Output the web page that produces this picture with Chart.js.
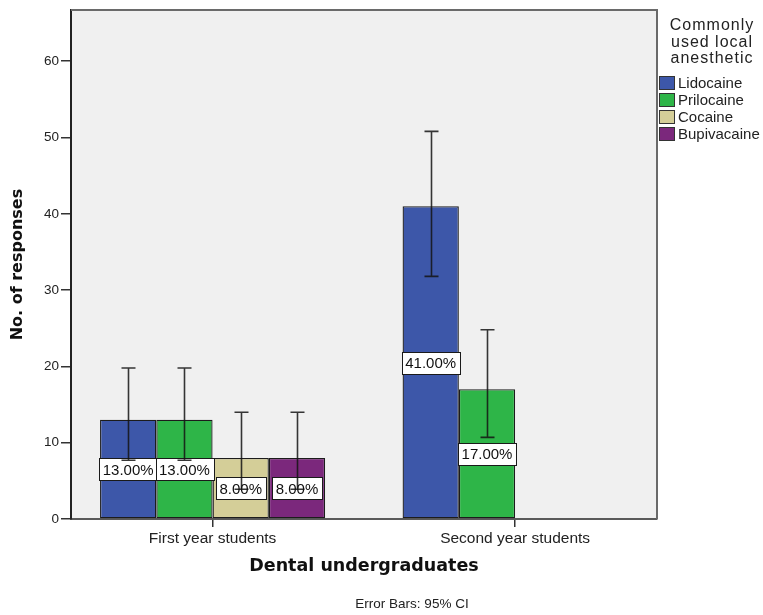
<!DOCTYPE html>
<html>
<head>
<meta charset="utf-8">
<script src="https://cdn.jsdelivr.net/npm/chart.js@4/dist/chart.umd.min.js"></script>
<style>
  html, body { margin: 0; padding: 0; background: #ffffff; }
  #c { display: block; }
</style>
</head>
<body>
<canvas id="c" width="763" height="615"></canvas>
<script>
// ---- data ----
const categories = ['First year students', 'Second year students'];
const seriesNames = ['Lidocaine', 'Prilocaine', 'Cocaine', 'Bupivacaine'];
const lidocaine   = [13, 41];
const prilocaine  = [13, 17];
const cocaine     = [8, null];
const bupivacaine = [8, null];
// 95% CI error bars
const lidocaineLow   = [7.7, 31.8];
const lidocaineHigh  = [19.8, 50.8];
const prilocaineLow  = [7.7, 10.7];
const prilocaineHigh = [19.8, 24.8];
const cocaineLow     = [3.9, null];
const cocaineHigh    = [14.0, null];
const bupivacaineLow = [3.9, null];
const bupivacaineHigh= [14.0, null];
const yTicks = [0, 10, 20, 30, 40, 50, 60];
const legendTitle = ['Commonly', 'used local', 'anesthetic'];
const footnote = 'Error Bars: 95% CI';

const seriesValues = [lidocaine, prilocaine, cocaine, bupivacaine];
const seriesLow = [lidocaineLow, prilocaineLow, cocaineLow, bupivacaineLow];
const seriesHigh = [lidocaineHigh, prilocaineHigh, cocaineHigh, bupivacaineHigh];
const colors = ['#3d57a9', '#2eb548', '#d4ce98', '#7b287c'];

const FONT = '"Liberation Sans", Arial, sans-serif';
const BOLD = '"DejaVu Sans", Verdana, sans-serif';

const datasets = seriesNames.map((name, i) => ({
  label: name,
  data: seriesValues[i].map((v, j) => ({ x: j, y: v })),
  backgroundColor: colors[i],
  borderColor: '#1c1c1c',
  borderWidth: 1.3,
  borderSkipped: false,
  categoryPercentage: 0.744,
  barPercentage: 1.0
}));

const decorPlugin = {
  id: 'decor',
  beforeDraw(chart) {
    const { ctx, chartArea: a } = chart;
    ctx.save();
    ctx.fillStyle = '#f0f0f0';
    ctx.fillRect(a.left, a.top, a.right - a.left, a.bottom - a.top);
    ctx.restore();
  },
  afterDatasetsDraw(chart) {
    const { ctx } = chart;
    const ys = chart.scales.y;
    // value labels
    ctx.save();
    ctx.font = '15px ' + FONT;
    ctx.textAlign = 'center';
    ctx.textBaseline = 'middle';
    seriesValues.forEach((vals, i) => {
      const meta = chart.getDatasetMeta(i);
      vals.forEach((v, j) => {
        if (v === null) return;
        const x = meta.data[j].x;
        const y = ys.getPixelForValue(v / 2);
        const txt = v.toFixed(2) + '%';
        const w = ctx.measureText(txt).width + 7;
        const h = 22;
        ctx.fillStyle = '#ffffff';
        ctx.fillRect(Math.round(x - w / 2) + 0.5, Math.round(y - h / 2) + 0.5, Math.round(w), h);
        ctx.strokeStyle = '#1a1a1a';
        ctx.lineWidth = 1;
        ctx.strokeRect(Math.round(x - w / 2) + 0.5, Math.round(y - h / 2) + 0.5, Math.round(w), h);
        ctx.fillStyle = '#111111';
        ctx.fillText(txt, x, y + 1);
      });
    });
    // error bars
    ctx.strokeStyle = 'rgba(20,20,20,0.85)';
    ctx.lineWidth = 1.6;
    seriesValues.forEach((vals, i) => {
      const meta = chart.getDatasetMeta(i);
      vals.forEach((v, j) => {
        if (v === null) return;
        const x = Math.round(meta.data[j].x) + 0.5;
        const yl = ys.getPixelForValue(seriesLow[i][j]);
        const yh = ys.getPixelForValue(seriesHigh[i][j]);
        ctx.beginPath();
        ctx.moveTo(x, yl); ctx.lineTo(x, yh);
        ctx.moveTo(x - 7, yl); ctx.lineTo(x + 7, yl);
        ctx.moveTo(x - 7, yh); ctx.lineTo(x + 7, yh);
        ctx.stroke();
      });
    });
    ctx.restore();
  },
  afterDraw(chart) {
    const { ctx, chartArea: a } = chart;
    ctx.save();
    // frame top and right
    ctx.strokeStyle = '#6a6a6a';
    ctx.lineWidth = 2;
    ctx.beginPath();
    ctx.moveTo(a.left, a.top);
    ctx.lineTo(a.right, a.top);
    ctx.lineTo(a.right, a.bottom);
    ctx.stroke();
    // legend
    ctx.fillStyle = '#222222';
    ctx.font = '16px ' + FONT;
    ctx.textAlign = 'center';
    ctx.textBaseline = 'middle';
    try { ctx.letterSpacing = '1px'; } catch (e) {}
    legendTitle.forEach((t, k) => ctx.fillText(t, 712, 26 + k * 16.5));
    try { ctx.letterSpacing = '0px'; } catch (e) {}
    ctx.font = '15px ' + FONT;
    ctx.textAlign = 'left';
    chart.data.datasets.forEach((ds, i) => {
      const ry = 83 + i * 17;
      ctx.fillStyle = ds.backgroundColor;
      ctx.fillRect(659.5, ry - 6.5, 15, 13);
      ctx.strokeStyle = '#333333';
      ctx.lineWidth = 1;
      ctx.strokeRect(659.5, ry - 6.5, 15, 13);
      ctx.fillStyle = '#222222';
      ctx.fillText(ds.label, 678, ry + 1);
    });
    // footnote
    ctx.font = '13.5px ' + FONT;
    ctx.textAlign = 'center';
    ctx.fillText(footnote, 412, 604);
    ctx.restore();
  }
};

new Chart(document.getElementById('c'), {
  type: 'bar',
  data: { datasets },
  options: {
    responsive: false,
    animation: false,
    devicePixelRatio: 1,
    layout: { padding: { top: 9, right: 106, left: 0, bottom: 0 } },
    plugins: {
      legend: { display: false },
      tooltip: { enabled: false }
    },
    scales: {
      x: {
        type: 'linear',
        offset: false,
        min: -0.468,
        max: 1.469,
        afterBuildTicks: (s) => { s.ticks = categories.map((c, i) => ({ value: i })); },
        afterFit: (s) => { s.height = 96; },
        ticks: {
          callback: (v) => categories[v],
          font: { family: FONT, size: 15.5 },
          color: '#222222',
          padding: 2,
          maxRotation: 0,
          autoSkip: false
        },
        grid: { offset: false, drawOnChartArea: false, drawTicks: true, tickLength: 8, color: '#333333', lineWidth: 1.5 },
        border: { display: true, color: '#5a5a5a', width: 2 },
        title: {
          display: true,
          text: 'Dental undergraduates',
          font: { family: BOLD, size: 17.5, weight: 'bold', lineHeight: 1.2 },
          color: '#111111',
          padding: { top: 0, bottom: 38.5 }
        }
      },
      y: {
        min: 0,
        max: 66.7,
        afterBuildTicks: (s) => { s.ticks = yTicks.map(v => ({ value: v })); },
        afterFit: (s) => { s.width = 71; },
        ticks: {
          font: { family: FONT, size: 13.5 },
          color: '#222222',
          padding: 2
        },
        grid: { drawOnChartArea: false, drawTicks: true, tickLength: 10, color: '#333333', lineWidth: 1.5 },
        border: { display: true, color: '#222222', width: 2 },
        title: {
          display: true,
          text: 'No. of responses',
          font: { family: BOLD, size: 16, weight: 'bold', lineHeight: 1.2 },
          color: '#111111',
          padding: { top: 8.4, bottom: 0 }
        }
      }
    }
  },
  plugins: [decorPlugin]
});
</script>
</body>
</html>
